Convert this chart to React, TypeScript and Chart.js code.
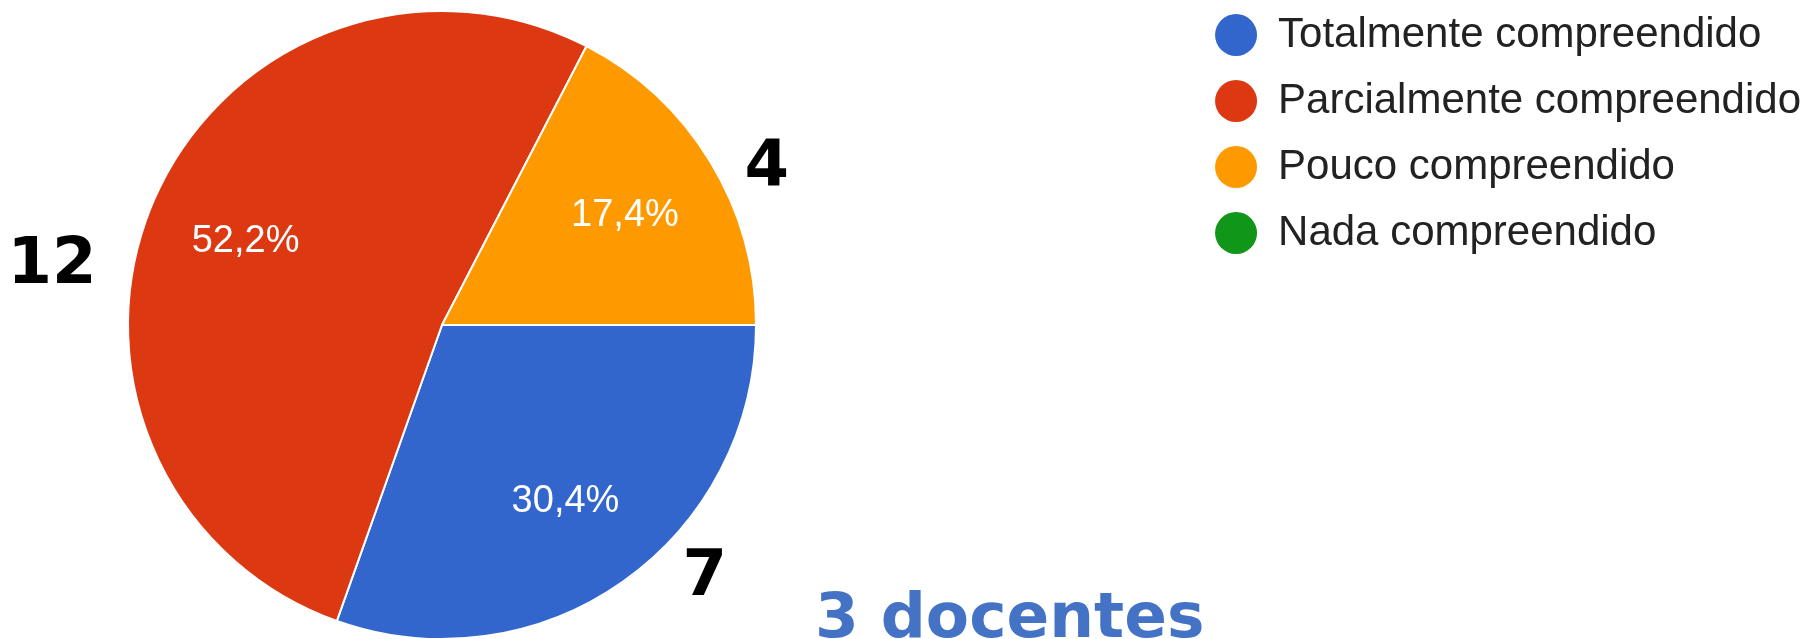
import React, { useEffect, useRef } from 'react';
import { Chart, registerables } from 'chart.js';

Chart.register(...registerables);

// ---- data ----
const categories = [
  'Totalmente compreendido',
  'Parcialmente compreendido',
  'Pouco compreendido',
  'Nada compreendido',
];
const responses = [7, 12, 4, 0];
const sliceColors = ['#3366CC', '#DC3912', '#FF9900', '#109618'];
const noteText = '3 docentes';

// ---- layout / style constants ----
const W = 1808;
const H = 639;
const PIE_CX = 442;
const PIE_CY = 325;
const PIE_R = 313;
const LEGEND_SHIFT_X = 3;
const LEGEND_SHIFT_Y = -10;
const SANS = '"Liberation Sans", Arial, Helvetica, sans-serif';
const HEAVY = '"DejaVu Sans", "Liberation Sans", Arial, sans-serif';

const pinLayout = {
  id: 'pinLayout',
  afterLayout(chart: any, _args: any, opts: any) {
    const a = chart.chartArea;
    const half = opts.r + 2;
    a.left = opts.cx - half;
    a.right = opts.cx + half;
    a.top = opts.cy - half;
    a.bottom = opts.cy + half;
    a.width = a.right - a.left;
    a.height = a.bottom - a.top;
    const lg = chart.legend;
    if (lg) {
      lg.top += opts.legendShiftY;
      lg.bottom += opts.legendShiftY;
      lg.left += opts.legendShiftX;
      lg.right += opts.legendShiftX;
    }
  },
};

const sliceLabels = {
  id: 'sliceLabels',
  afterDatasetsDraw(chart: any, _args: any, opts: any) {
    const meta = chart.getDatasetMeta(0);
    const data = chart.data.datasets[0].data as number[];
    const total = data.reduce((s, v) => s + v, 0);
    const ctx = chart.ctx as CanvasRenderingContext2D;
    ctx.save();
    ctx.textAlign = 'center';
    ctx.textBaseline = 'middle';
    meta.data.forEach((arc: any, i: number) => {
      const v = data[i];
      if (!v) return;
      const p = arc.getProps(['x', 'y', 'startAngle', 'endAngle', 'outerRadius'], true);
      const mid = (p.startAngle + p.endAngle) / 2;
      const r = p.outerRadius * opts.radiusFactor;
      const pct = ((v / total) * 100).toFixed(1).replace('.', ',') + '%';
      ctx.font = opts.pctFont;
      ctx.fillStyle = opts.pctColor;
      ctx.fillText(pct, p.x + Math.cos(mid) * r, p.y + Math.sin(mid) * r + opts.pctDy);
      const anchor = opts.countAnchors[i];
      if (anchor) {
        ctx.font = opts.countFont;
        ctx.fillStyle = opts.countColor;
        ctx.fillText(String(v), p.x + anchor[0] * p.outerRadius, p.y + anchor[1] * p.outerRadius);
      }
    });
    ctx.restore();
  },
};

const noteLabel = {
  id: 'noteLabel',
  afterDraw(chart: any, _args: any, opts: any) {
    const ctx = chart.ctx as CanvasRenderingContext2D;
    ctx.save();
    ctx.font = opts.font;
    ctx.fillStyle = opts.color;
    ctx.textAlign = 'left';
    ctx.textBaseline = 'alphabetic';
    ctx.fillText(opts.text, opts.x, opts.y);
    ctx.restore();
  },
};

export default function App() {
  const ref = useRef<HTMLCanvasElement>(null);

  useEffect(() => {
    if (!ref.current) return;
    const chart = new Chart(ref.current, {
      type: 'pie',
      data: {
        labels: categories,
        datasets: [
          {
            data: responses,
            backgroundColor: sliceColors,
            borderColor: '#ffffff',
            borderWidth: 2,
          },
        ],
      },
      options: {
        responsive: false,
        animation: false,
        events: [],
        rotation: 90,
        layout: { padding: 0 },
        plugins: {
          tooltip: { enabled: false },
          legend: {
            position: 'right',
            align: 'start',
            labels: {
              font: { family: SANS, size: 42 },
              color: '#222222',
              boxWidth: 42,
              boxHeight: 42,
              padding: 24,
              useBorderRadius: true,
              borderRadius: 21,
              generateLabels: (c: any) =>
                (c.data.labels as string[]).map((t, i) => ({
                  text: t,
                  fillStyle: sliceColors[i],
                  strokeStyle: sliceColors[i],
                  lineWidth: 0,
                  hidden: false,
                  index: i,
                  borderRadius: 21,
                  fontColor: '#222222',
                })),
            },
          },
          pinLayout: {
            cx: PIE_CX,
            cy: PIE_CY,
            r: PIE_R,
            legendShiftX: LEGEND_SHIFT_X,
            legendShiftY: LEGEND_SHIFT_Y,
          },
          sliceLabels: {
            radiusFactor: 0.682,
            pctDy: 2,
            pctFont: `38px ${SANS}`,
            pctColor: '#ffffff',
            countFont: `bold 64px ${HEAVY}`,
            countColor: '#000000',
            countAnchors: [
              [0.837, 0.807],
              [-1.242, -0.186],
              [1.034, -0.497],
              null,
            ],
          },
          noteLabel: {
            text: noteText,
            font: `bold 63px ${HEAVY}`,
            color: '#4472C4',
            x: 815,
            y: 637,
          },
        } as any,
      },
      plugins: [pinLayout, sliceLabels, noteLabel],
    });
    return () => chart.destroy();
  }, []);

  return (
    <div style={{ position: 'fixed', left: 0, top: 0, width: W, height: H, overflow: 'hidden', background: '#fff' }}>
      <canvas ref={ref} width={W} height={H} style={{ width: W, height: H, display: 'block' }} />
    </div>
  );
}
